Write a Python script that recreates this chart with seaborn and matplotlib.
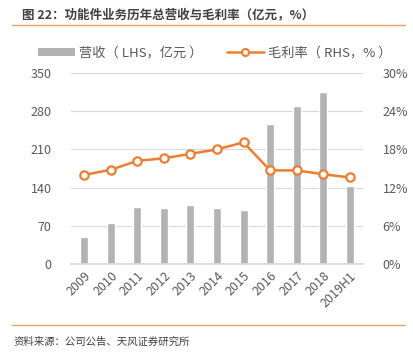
import matplotlib
matplotlib.use("Agg")
import matplotlib.pyplot as plt
import seaborn as sns
import numpy as np
import pandas as pd
from matplotlib.patches import Patch
from matplotlib.lines import Line2D

categories = ["2009", "2010", "2011", "2012", "2013", "2014", "2015", "2016", "2017", "2018", "2019H1"]
revenue = [50, 75, 104, 102, 108, 102, 99, 256, 290, 315, 143]
margin = [14.0, 14.8, 16.2, 16.6, 17.3, 18.0, 19.1, 14.7, 14.7, 14.1, 13.6]
left_ticks = [0, 70, 140, 210, 280, 350]
right_ticks = [0, 6, 12, 18, 24, 30]

sns.set_theme(style="white")
plt.rcParams['font.family'] = ['Noto Sans CJK SC', 'DejaVu Sans']

GRAY = "#B3B3B3"
ORANGE = "#ED7D31"
TXT = "#595959"

fig = plt.figure(figsize=(4.13, 3.59), dpi=100)
ax = fig.add_axes([71/413, (359-264)/359, (363-71)/413, (264-73)/359])

df = pd.DataFrame({"cat": categories, "rev": revenue, "margin": margin})
sns.barplot(data=df, x="cat", y="rev", color=GRAY, width=0.3, ax=ax, saturation=1)
ax.set_xlim(-0.5, len(categories) - 0.5)
ax.set_ylim(0, 350)
ax.set_yticks(left_ticks)
ax.set_yticklabels([str(t) for t in left_ticks])
ax.yaxis.grid(True, color="#D9D9D9", linewidth=0.8)
ax.set_axisbelow(True)
ax.set_xlabel("")
ax.set_ylabel("")
for s in ["top", "right", "left"]:
    ax.spines[s].set_visible(False)
ax.spines["bottom"].set_color("#D9D9D9")
ax.tick_params(axis="y", colors=TXT, labelsize=9, length=0, pad=14)
ax.tick_params(axis="x", colors=TXT, labelsize=9, length=0, pad=4)
for lab in ax.get_xticklabels():
    lab.set_rotation(45)
    lab.set_ha("right")
    lab.set_rotation_mode("anchor")

ax2 = ax.twinx()
df["pos"] = np.arange(len(categories))
sns.lineplot(data=df, x="pos", y="margin", ax=ax2, color=ORANGE, linewidth=1.8,
             marker="o", markersize=6, markerfacecolor="white", markeredgecolor=ORANGE,
             markeredgewidth=1.6)
ax2.set_ylim(0, 30)
ax2.set_yticks(right_ticks)
ax2.set_yticklabels([f"{t}%" for t in right_ticks])
ax2.set_xlim(-0.5, len(categories) - 0.5)
ax2.set_ylabel("")
ax2.set_xlabel("")
for s in ["top", "right", "left", "bottom"]:
    ax2.spines[s].set_visible(False)
ax2.tick_params(axis="y", colors=TXT, labelsize=9, length=0, pad=14)
ax2.grid(False)

# title and decorations
fig.text(22/413, 1 - 15/359, "图 22：功能件业务历年总营收与毛利率（亿元，%）", fontsize=9,
         fontweight="bold", color="#404040", va="center", ha="left")
fig.add_artist(Line2D([12/413, 405/413], [1 - 25/359, 1 - 25/359], color="#F0A060", linewidth=1.0))
fig.add_artist(Line2D([12/413, 405/413], [1 - 325/359, 1 - 325/359], color="#F0A060", linewidth=1.0))
fig.text(14/413, 1 - 342/359, "资料来源：公司公告、天风证券研究所", fontsize=7.5, color="#404040",
         va="center", ha="left")

handles = [Patch(facecolor=GRAY, edgecolor="none"),
           Line2D([0], [0], color=ORANGE, linewidth=1.8, marker="o", markersize=5,
                  markerfacecolor="white", markeredgecolor=ORANGE, markeredgewidth=1.5)]
leg = fig.legend(handles, ["营收（ LHS，亿元 ）", "毛利率（ RHS，% ）"], loc="center",
                 bbox_to_anchor=(0.52, 1 - 53/359), ncol=2, frameon=False, fontsize=9.5,
                 handlelength=2.8, handleheight=0.5, columnspacing=1.8, handletextpad=0.3)
for t in leg.get_texts():
    t.set_color(TXT)

fig.savefig("out.png", dpi=100, facecolor="white")
